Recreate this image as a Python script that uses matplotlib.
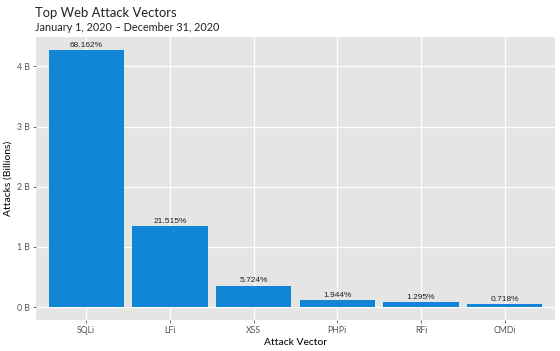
import matplotlib.pyplot as plt

vectors = ["SQLi", "LFi", "XSS", "PHPi", "RFi", "CMDi"]
attacks_b = [4.274, 1.349, 0.359, 0.1219, 0.0812, 0.045]
pct_labels = ["68.162%", "21.515%", "5.724%", "1.944%", "1.295%", "0.718%"]
y_ticks = [0, 1, 2, 3, 4]
y_tick_labels = ["0 B", "1 B", "2 B", "3 B", "4 B"]

fig = plt.figure(figsize=(5.6, 3.51), dpi=100)
ax = fig.add_axes([36 / 560, 31 / 351, 519 / 560, 283 / 351])
ax.set_facecolor("#e5e5e5")

x = range(len(vectors))
ax.bar(x, attacks_b, width=0.9, color="#1185d6", zorder=3)
for xi, v, lab in zip(x, attacks_b, pct_labels):
    ax.text(xi, v + 0.02, lab, ha="center", va="bottom", fontsize=6,
            family="Liberation Sans", color="#222222", zorder=4)

top = max(attacks_b)
ax.set_xlim(-0.6, len(vectors) - 0.4)
ax.set_ylim(-0.05 * top, 1.05 * top)
ax.set_xticks(list(x))
ax.set_xticklabels(vectors)
ax.set_yticks(y_ticks)
ax.set_yticklabels(y_tick_labels)
ax.grid(True, color="white", linewidth=0.9, zorder=0)
ax.set_axisbelow(True)
for s in ax.spines.values():
    s.set_visible(False)
ax.tick_params(axis="both", labelsize=6.3, colors="#555555", length=2.5,
               width=0.6, pad=2)
for lab in ax.get_xticklabels() + ax.get_yticklabels():
    lab.set_family("Lato")

ax.set_xlabel("Attack Vector", fontsize=7.5, family="Lato", labelpad=2)
ax.set_ylabel("Attacks (Billions)", fontsize=7.5, family="Lato", labelpad=3)

fig.text(35 / 560, 1 - 17 / 351, "Top Web Attack Vectors", fontsize=9.4,
         family="Lato", color="#222222")
fig.text(35 / 560, 1 - 31 / 351, "January 1, 2020 \u2013 December 31, 2020",
         fontsize=7.8, family="Lato", color="#222222")

fig.savefig("out.png", dpi=100)
